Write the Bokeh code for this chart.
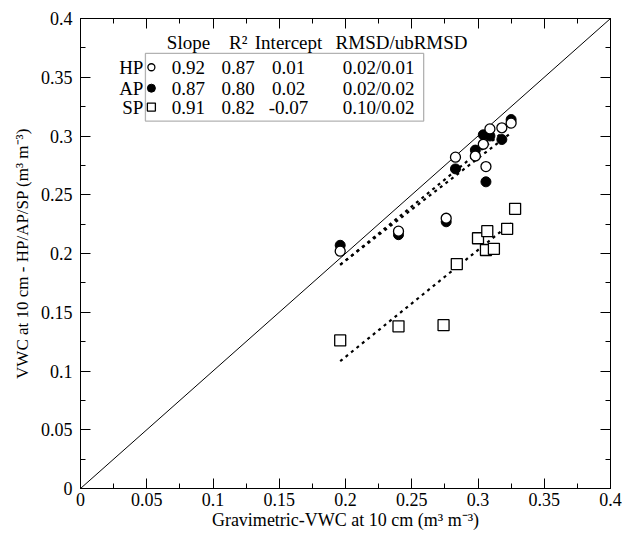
from bokeh.plotting import figure
from bokeh.models import FixedTicker, LinearAxis, BoxAnnotation, Range1d, ColumnDataSource
from bokeh.core.properties import value
from bokeh.embed import file_html
from bokeh.resources import INLINE

# ---- data ----
grav_x = [0.196, 0.240, 0.276, 0.283, 0.298, 0.306, 0.304, 0.309, 0.318, 0.325]
hp_y = [0.202, 0.219, 0.230, 0.282, 0.283, 0.274, 0.293, 0.306, 0.307, 0.311]
ap_y = [0.207, 0.216, 0.227, 0.272, 0.288, 0.261, 0.301, 0.300, 0.297, 0.314]
sp_x = [0.196, 0.240, 0.274, 0.284, 0.300, 0.307, 0.306, 0.312, 0.322, 0.328]
sp_y = [0.126, 0.138, 0.139, 0.191, 0.213, 0.219, 0.203, 0.204, 0.221, 0.238]

series = ["HP", "AP", "SP"]
slopes = ["0.92", "0.87", "0.91"]
r2 = ["0.87", "0.80", "0.82"]
intercepts = ["0.01", "0.02", "-0.07"]
rmsd = ["0.02/0.01", "0.02/0.02", "0.10/0.02"]
fit_slope = [0.92, 0.87, 0.91]
fit_intercept = [0.01, 0.02, -0.07]
fit_x = [0.196, 0.325]
headers = ["Slope", "R²", "Intercept", "RMSD/ubRMSD"]

tick_vals = [0, 0.05, 0.1, 0.15, 0.2, 0.25, 0.3, 0.35, 0.4]
tick_labels = ["0", "0.05", "0.1", "0.15", "0.2", "0.25", "0.3", "0.35", "0.4"]
minor_vals = [0.025, 0.075, 0.125, 0.175, 0.225, 0.275, 0.325, 0.375]

FONT = "Liberation Serif"

p = figure(width=622, height=532, output_backend="svg", toolbar_location=None,
           x_range=Range1d(0, 0.4), y_range=Range1d(0, 0.4),
           min_border_left=80, min_border_right=12, min_border_top=18, min_border_bottom=42)
p.grid.visible = False
p.outline_line_color = "black"
p.outline_line_width = 1
p.background_fill_color = "white"
p.border_fill_color = "white"

def style_axis(ax, labels=True):
    ax.ticker = FixedTicker(ticks=tick_vals, minor_ticks=minor_vals)
    ax.major_label_overrides = {v: l for v, l in zip(tick_vals, tick_labels)}
    ax.major_tick_in = 10
    ax.major_tick_out = 0
    ax.minor_tick_in = 5
    ax.minor_tick_out = 0
    ax.axis_line_color = "black"
    ax.major_tick_line_color = "black"
    ax.minor_tick_line_color = "black"
    ax.major_label_text_font = FONT
    ax.major_label_text_font_size = "18px"
    ax.major_label_text_color = "black"
    ax.axis_label_text_font = FONT
    ax.axis_label_text_font_size = "17px"
    ax.axis_label_text_font_style = "normal"
    ax.axis_label_text_color = "black"
    if not labels:
        ax.major_label_text_font_size = "0px"
        ax.major_label_text_alpha = 0

for ax in p.xaxis:
    style_axis(ax)
    ax.axis_label = "Gravimetric-VWC at 10 cm (m³ m⁻³)"
    ax.axis_label_text_font_size = "18px"
    ax.major_label_standoff = 4
    ax.axis_label_standoff = 1
for ax in p.yaxis:
    style_axis(ax)
    ax.axis_label = "VWC at 10 cm - HP/AP/SP (m³ m⁻³)"
    ax.major_label_standoff = 8
    ax.axis_label_standoff = 6

top_ax = LinearAxis()
style_axis(top_ax, labels=False)
top_ax.major_label_standoff = 0
p.add_layout(top_ax, "above")
right_ax = LinearAxis()
style_axis(right_ax, labels=False)
right_ax.major_label_standoff = 0
p.add_layout(right_ax, "right")

# 1:1 line
p.line([0, 0.4], [0, 0.4], line_color="black", line_width=1)

# regression lines
for s, b in zip(fit_slope, fit_intercept):
    p.line(fit_x, [s * fit_x[0] + b, s * fit_x[1] + b], line_color="black",
           line_width=2.2, line_dash="3 4")

# data points
p.scatter(grav_x, ap_y, marker="circle", size=10, fill_color="black", line_color="black")
p.scatter(grav_x, hp_y, marker="circle", size=10, fill_color="white", line_color="black", line_width=1.3)
p.scatter(sp_x, sp_y, marker="square", size=11, fill_color="white", line_color="black", line_width=1.3)

# stats box
box = BoxAnnotation(left=0.049, right=0.259, top=0.3703, bottom=0.3127,
                    fill_alpha=0, line_color="black", line_width=1.3)
p.add_layout(box)

row_y = [0.3585, 0.3407, 0.3246]
head_y = 0.380
col_x = [0.0815, 0.119, 0.157]

def txt(xs, ys, texts, align="center"):
    src = ColumnDataSource(dict(x=xs, y=ys, t=texts))
    p.text(x="x", y="y", text="t", source=src, text_font=value(FONT),
           text_font_size="19px", text_align=align, text_baseline="middle",
           text_color="black")

txt(col_x, [head_y] * 3, headers[:3])
txt([0.1925], [head_y], headers[3:], align="left")
txt([0.0475] * 3, row_y, series, align="right")
txt([col_x[0]] * 3, row_y, slopes)
txt([col_x[1]] * 3, row_y, r2)
txt([col_x[2]] * 3, row_y, intercepts)
txt([0.225] * 3, row_y, rmsd)

mx = 0.0535
p.scatter([mx], [row_y[0]], marker="circle", size=7, fill_color="white", line_color="black", line_width=1.3)
p.scatter([mx], [row_y[1]], marker="circle", size=8, fill_color="black", line_color="black")
p.scatter([mx], [row_y[2]], marker="square", size=8, fill_color="white", line_color="black", line_width=1.3)

open("out.html", "w").write(file_html(p, INLINE))
